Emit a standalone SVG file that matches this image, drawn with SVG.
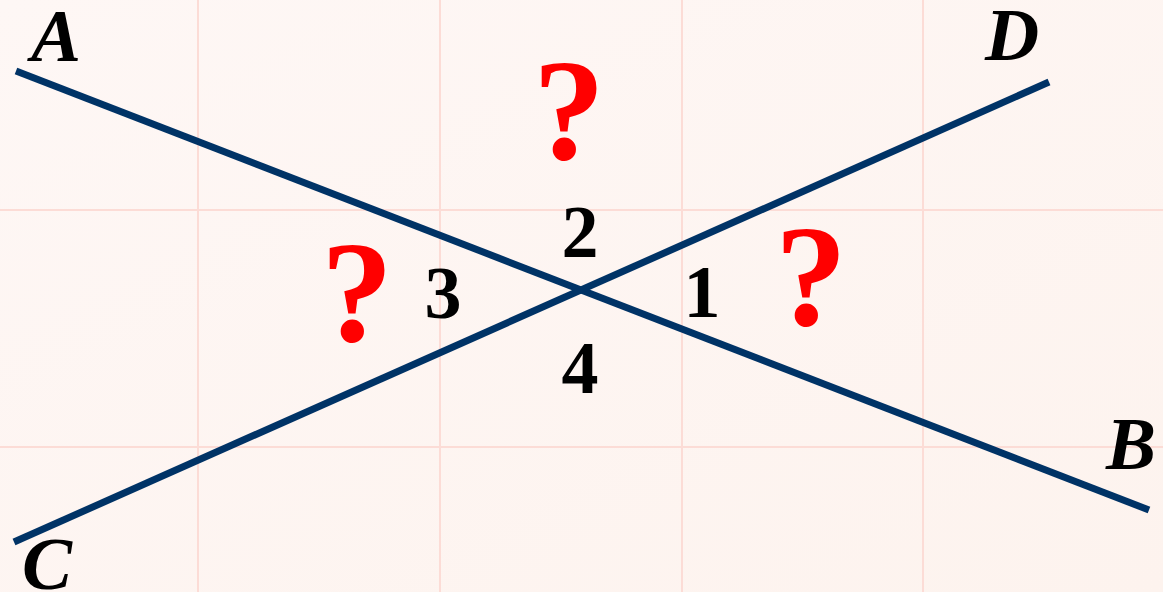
<svg xmlns="http://www.w3.org/2000/svg" width="1163" height="592" viewBox="0 0 1163 592">
<defs>
<linearGradient id="bg" x1="0" y1="0" x2="1" y2="1">
<stop offset="0" stop-color="#fef7f5"/>
<stop offset="1" stop-color="#fdf3ee"/>
</linearGradient>
<style>
.grid{stroke:#fcdcd6;stroke-width:2;fill:none}
.ln{stroke:#003366;stroke-width:7;fill:none;stroke-linecap:butt}
.lbl{font-family:"Liberation Serif",serif;font-weight:bold;font-style:italic;font-size:75px;fill:#000;text-anchor:middle}
.num{font-family:"Liberation Serif",serif;font-weight:bold;font-size:74px;fill:#000;text-anchor:middle}
.q{font-family:"Liberation Serif",serif;font-weight:bold;font-size:144px;fill:#ff0000;text-anchor:middle}
</style>
</defs>
<rect width="1163" height="592" fill="url(#bg)"/>
<g id="grid">
<line class="grid" x1="198" y1="0" x2="198" y2="592"/>
<line class="grid" x1="440" y1="0" x2="440" y2="592"/>
<line class="grid" x1="682" y1="0" x2="682" y2="592"/>
<line class="grid" x1="923" y1="0" x2="923" y2="592"/>
<line class="grid" x1="0" y1="210" x2="1163" y2="210"/>
<line class="grid" x1="0" y1="447" x2="1163" y2="447"/>
</g>
<g id="connectors">
<line id="AB" class="ln" x1="16" y1="71" x2="1149" y2="510"/>
<line id="CD" class="ln" x1="14" y1="542" x2="1049" y2="82"/>
</g>
<g id="A"><text class="lbl" x="56" y="61">A</text></g>
<g id="B"><text class="lbl" x="1131" y="469">B</text></g>
<g id="C"><text class="lbl" x="47" y="589">C</text></g>
<g id="D"><text class="lbl" x="1012" y="60">D</text></g>
<g id="angle1"><text class="num" x="702" y="317">1</text></g>
<g id="angle2"><text class="num" x="580" y="257">2</text></g>
<g id="angle3"><text class="num" x="443" y="318">3</text></g>
<g id="angle4"><text class="num" x="580" y="393">4</text></g>
<g id="q-top"><text class="q" x="569" y="159">?</text></g>
<g id="q-left"><text class="q" x="357" y="341">?</text></g>
<g id="q-right"><text class="q" x="811" y="325">?</text></g>
</svg>
